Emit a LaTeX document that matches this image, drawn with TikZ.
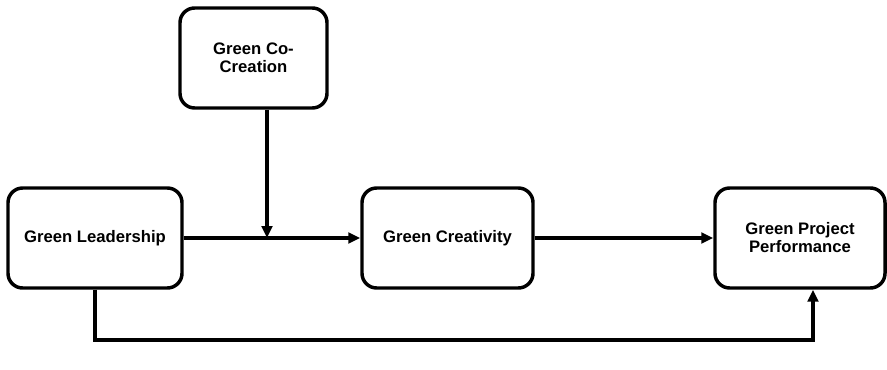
\documentclass[tikz,border=0pt]{standalone}
\usepackage{fontspec}
\setmainfont{Liberation Sans}
\usetikzlibrary{arrows.meta}

\tikzset{every picture/.style={line width=0.75pt}}
\tikzset{
  varbox/.style={draw, line width=2.6pt, rounded corners=11pt, align=center,
    font=\bfseries\fontsize{12.5}{13.5}\selectfont, inner sep=2pt},
  link/.style={draw, line width=2.4pt, -{Triangle[length=9pt,width=8pt]}}
}

\begin{document}
\begin{tikzpicture}[x=0.75pt,y=0.75pt,yscale=-1,xscale=1]
	\useasboundingbox (0,0) rectangle (887,370);

	% Variable boxes
	\node[varbox, minimum width=147*0.75pt, minimum height=100*0.75pt] (cocreation) at (253.5,58) {Green Co-\\Creation};
	\node[varbox, minimum width=174*0.75pt, minimum height=100*0.75pt] (leadership) at (95,238) {Green Leadership};
	\node[varbox, minimum width=171*0.75pt, minimum height=100*0.75pt] (creativity) at (447.5,238) {Green Creativity};
	\node[varbox, minimum width=170*0.75pt, minimum height=100*0.75pt] (performance) at (800,238) {Green Project\\Performance};

	% Helper points
	\coordinate (meet) at (267,238);
	\coordinate (bend) at (813,340);

	% Links
	\path[link] (leadership.east) -- (creativity.west);
	\path[link] (creativity.east) -- (performance.west);
	\path[link] (meet |- cocreation.south) -- (meet);
	\path[link] (leadership.south) |- (bend) -- (bend |- performance.south);

\end{tikzpicture}
\end{document}
